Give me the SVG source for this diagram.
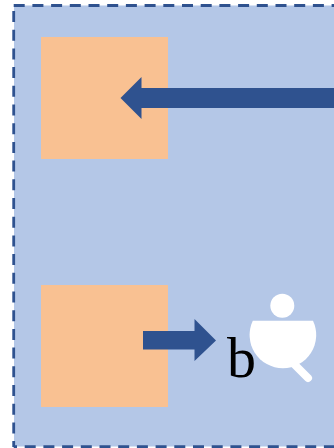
<svg xmlns="http://www.w3.org/2000/svg" width="334" height="448" viewBox="0 0 334 448">
<style>
.box{fill:#f9c192}
.arrow{fill:#2f528f}
.icon{fill:#fff}
.panel{fill:#b4c7e7}
.edge{fill:none;stroke:#2f528f;stroke-width:2.8;stroke-dasharray:11 7.7}
.label{font-family:"Liberation Serif",serif;font-size:58px;fill:#000}
</style>
<g id="panel">
<rect class="panel" x="14" y="5.5" width="320" height="441"/>
<path class="edge" d="M13.700 5.500H334"/>
<path class="edge" d="M13.700 11V447"/>
<path class="edge" d="M13.700 446.700H334" stroke-dashoffset="7.700"/>
</g>
<g id="node-top"><rect class="box" x="41" y="37" width="127" height="122"/></g>
<g id="node-bottom"><rect class="box" x="41" y="285" width="127" height="122"/></g>
<g id="connectors">
<polygon class="arrow" points="334,88 141.500,88 141.500,77 120.500,98 141.500,119 141.500,108 334,108"/>
<polygon class="arrow" points="143,331 194.500,331 194.500,319 216,340.500 194.500,361 194.500,349.500 143,349.500"/>
</g>
<g id="node-icon">
<circle class="icon" cx="282.300" cy="305.700" r="12"/>
<path class="icon" d="M252.800 320.700H313A33.300 33.300 0 1 1 252.800 320.700Z"/>
<line x1="293" y1="363" x2="308" y2="378" stroke="#fff" stroke-width="8" stroke-linecap="round"/>
</g>
<text class="label" x="227" y="376.500">b</text>
</svg>
